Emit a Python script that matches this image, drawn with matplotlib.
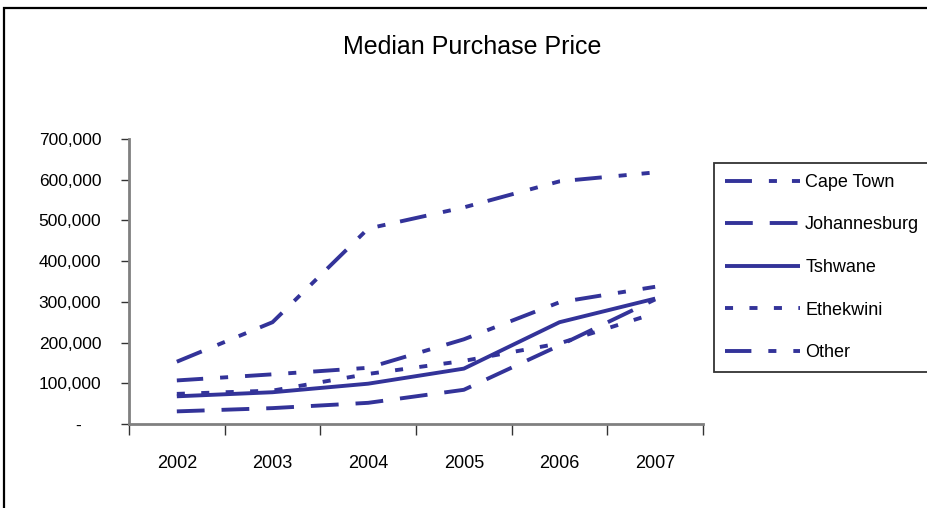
import matplotlib
matplotlib.use("Agg")
import matplotlib.pyplot as plt
from matplotlib.patches import Rectangle
from matplotlib.ticker import FuncFormatter, FixedLocator

# Median purchase price per metro, 2002-2007
years = ["2002", "2003", "2004", "2005", "2006", "2007"]
cape_town = [153000, 250000, 480000, 532000, 596000, 618000]
johannesburg = [31000, 39000, 52000, 84000, 193000, 306000]
tshwane = [68000, 78000, 99000, 136000, 250000, 308000]
ethekwini = [74000, 82000, 123000, 155000, 198000, 272000]
other = [107000, 122000, 138000, 208000, 299000, 337000]

series_names = ["Cape Town", "Johannesburg", "Tshwane", "Ethekwini", "Other"]

plt.rcParams["font.family"] = ["Liberation Sans", "DejaVu Sans"]
plt.rcParams["lines.scale_dashes"] = False

BLUE = "#333399"
GREY = "#808080"

fig = plt.figure(figsize=(9.27, 5.08), dpi=100)
ax = fig.add_axes([129 / 927, 1 - 424 / 508, (703 - 129) / 927, (424 - 139) / 508])

x = list(range(len(years)))
styles = [
    (0, (19.4, 12.2, 5.8, 10.8, 5.8, 10.8)),
    (0, (20, 12.2)),
    "-",
    (0, (5.8, 11.8)),
    (0, (19, 12.2, 5.8, 12.2)),
]
for vals, name, ls in zip([cape_town, johannesburg, tshwane, ethekwini, other],
                          series_names, styles):
    ax.plot(x, vals, color=BLUE, lw=2.8, linestyle=ls, label=name,
            solid_capstyle="butt", dash_capstyle="butt")

ax.set_xlim(-0.5, len(years) - 0.5)
ax.set_ylim(0, 700000)

# category labels in the middle, tick marks on the boundaries
ax.set_xticks(x)
ax.set_xticklabels(years)
ax.xaxis.set_minor_locator(FixedLocator([i - 0.5 for i in range(len(years) + 1)]))
ax.tick_params(axis="x", which="major", length=0, pad=22, labelsize=13)
ax.tick_params(axis="x", which="minor", length=8, width=1, color="#333333",
               direction="out")

ax.set_yticks(range(0, 700001, 100000))
ax.yaxis.set_major_formatter(
    FuncFormatter(lambda v, p: "-    " if v == 0 else f"{int(v):,}"))
ax.tick_params(axis="y", length=6, width=1, color="#333333", pad=14, labelsize=12.5)

for side in ["top", "right"]:
    ax.spines[side].set_visible(False)
for side in ["left", "bottom"]:
    ax.spines[side].set_color(GREY)
    ax.spines[side].set_linewidth(2)

fig.text(472 / 927, 1 - 47 / 508, "Median Purchase Price", ha="center",
         va="center", fontsize=18)

leg = ax.legend(loc="upper left", bbox_to_anchor=(714 / 927, 1 - 163 / 508),
                bbox_transform=fig.transFigure, fontsize=13, handlelength=4.15,
                handletextpad=0.3, labelspacing=1.42, borderpad=0.6,
                borderaxespad=0, fancybox=False, framealpha=1)
leg.get_frame().set_edgecolor("#333333")
leg.get_frame().set_linewidth(1.3)

# outer chart border (runs off the right and bottom edges)
fig.patches.append(Rectangle((4 / 927, -0.5), 1.5, 0.5 + 1 - 8 / 508,
                             transform=fig.transFigure, fill=False,
                             edgecolor="black", lw=1.6))

fig.savefig("out.png", dpi=100)
